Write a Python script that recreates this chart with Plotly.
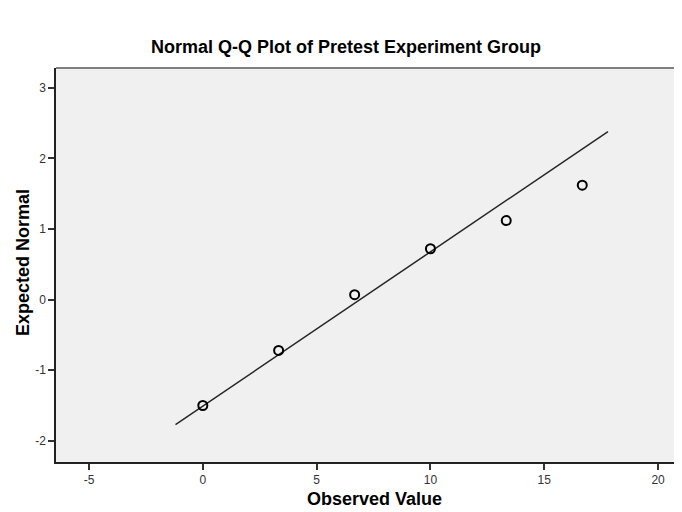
import plotly.graph_objects as go

observed = [0.0, 3.33, 6.67, 10.0, 13.33, 16.67]
expected = [-1.50, -0.72, 0.07, 0.72, 1.12, 1.62]
line_x = [-1.2, 17.8]
line_y = [-1.77, 2.38]
x_ticks = [-5, 0, 5, 10, 15, 20]
x_labels = ["-5", "0", "5", "10", "15", "20"]
y_ticks = [-2, -1, 0, 1, 2, 3]
y_labels = ["-2", "-1", "0", "1", "2", "3"]

fig = go.Figure()
fig.add_trace(go.Scatter(x=line_x, y=line_y, mode="lines",
                         line=dict(color="#262626", width=1.5), hoverinfo="skip"))
fig.add_trace(go.Scatter(x=observed, y=expected, mode="markers",
                         marker=dict(symbol="circle-open", size=9,
                                     color="#000000", line=dict(width=2))))

font = "Liberation Sans, Arial, sans-serif"
W, H = 682, 512
L, R, T, B = 48, 11, 60, 58
PW, PH = W - L - R, H - T - B
fig.update_layout(
    width=W, height=H,
    margin=dict(l=L, r=R, t=T, b=B, autoexpand=False),
    paper_bgcolor="white", plot_bgcolor="#F0F0F0",
    showlegend=False,
    font=dict(family=font),
    annotations=[
        dict(text="<b>Normal Q-Q Plot of Pretest Experiment Group</b>",
             xref="paper", yref="paper", x=(338 - L) / PW, y=1 + (T - 39) / PH,
             xanchor="center", yanchor="middle", showarrow=False,
             font=dict(family=font, size=18, color="#000")),
        dict(text="<b>Observed Value</b>",
             xref="paper", yref="paper", x=(366 - L) / PW, y=-(491 - (H - B)) / PH,
             xanchor="center", yanchor="middle", showarrow=False,
             font=dict(family=font, size=18, color="#000")),
        dict(text="<b>Expected Normal</b>", textangle=-90,
             xref="paper", yref="paper", x=-(L - 15) / PW, y=1 - (255 - T) / PH,
             xanchor="center", yanchor="middle", showarrow=False,
             font=dict(family=font, size=18, color="#000")),
    ],
)
fig.update_xaxes(range=[-6.45, 20.92], tickvals=x_ticks, ticktext=x_labels,
                 showgrid=False, zeroline=False, automargin=False,
                 showline=True, linecolor="#222", linewidth=1.5,
                 ticks="outside", ticklen=6, tickcolor="#333", tickwidth=1.5,
                 tickfont=dict(size=12, color="#333"))
fig.update_yaxes(range=[-2.30, 3.28], tickvals=y_ticks, ticktext=y_labels,
                 showgrid=False, zeroline=False, automargin=False,
                 showline=True, linecolor="#222", linewidth=1.5,
                 ticks="outside", ticklen=6, tickcolor="#333", tickwidth=1.5,
                 tickfont=dict(size=12, color="#333"))
# top frame line of the plot area
fig.add_shape(type="line", xref="paper", yref="paper", x0=0, x1=1, y0=1, y1=1,
              line=dict(color="#808080", width=2))
fig.write_html("out.html")
